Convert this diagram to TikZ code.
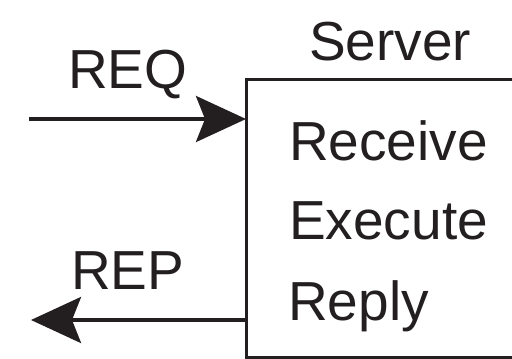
\documentclass[tikz,border=0pt]{standalone}
\usepackage{fontspec}
\setmainfont{Liberation Sans}
\usetikzlibrary{arrows.meta}
\definecolor{ink}{HTML}{231F20}
\begin{document}
\begin{tikzpicture}[x=1pt,y=1pt,
  lbl/.style={anchor=base west,inner sep=0pt,text=ink,font=\fontsize{55}{60}\selectfont},
  boxst/.style={draw=ink,line width=3pt,inner sep=0pt,outer sep=0pt,anchor=north west},
  conn/.style={draw=ink,line width=3.4pt,-{Stealth[length=50pt,width=46pt,inset=9pt]}}]
\useasboundingbox (0,0) rectangle (512,-359);
\fill[white] (0,0) rectangle (512,-359);
\node[boxst,minimum width=330pt,minimum height=278pt] (srv) at (246,-79) {};
\node[lbl] (server) at (309,-60) {Server};
\node[lbl] (recv) at (289,-160) {Receive};
\node[lbl] (exec) at (289,-239) {Execute};
\node[lbl] (reply) at (288,-320) {Reply};
\node[lbl] (req) at (68,-88) {REQ};
\node[lbl] (rep) at (71,-289) {REP};
\coordinate (reqstart) at (29,-119);
\coordinate (repend) at (31,-320);
\draw[conn] (reqstart) -- (srv.west |- reqstart);
\draw[conn] (srv.west |- repend) -- (repend);
\end{tikzpicture}
\end{document}
